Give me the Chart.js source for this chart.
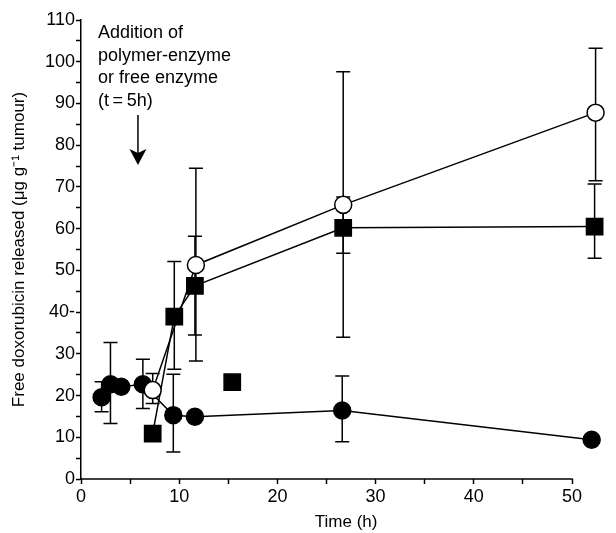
<!DOCTYPE html>
<html>
<head>
<meta charset="utf-8">
<script src="https://cdn.jsdelivr.net/npm/chart.js@4/dist/chart.umd.min.js"></script>
<style>
  body { margin: 0; background: #fff; }
  #wrap { width: 616px; height: 533px; }
</style>
</head>
<body>
<div id="wrap"><canvas id="chart-0"></canvas></div>
<script>
  // open circles (polymer-enzyme)
  var openX = [7.3, 11.7, 26.7, 52.4];
  var openY = [21.3, 51.3, 65.7, 87.8];
  var openLo = [18.1, 28.3, 34.0, 71.5];
  var openHi = [25.3, 74.5, 97.6, 103.2];

  // filled circles
  var filledX = [2.1, 3.0, 4.1, 6.3, 9.4, 11.6, 26.6, 52.0];
  var filledY = [19.6, 22.7, 22.1, 22.7, 15.3, 14.9, 16.4, 9.4];
  var filledLo = [16.1, 13.3, null, 16.9, 6.5, null, 8.9, null];
  var filledHi = [23.3, 32.7, null, 28.7, 25.1, null, 24.7, null];

  // filled squares
  var squareX = [7.3, 9.5, 11.6, 26.7, 52.3];
  var squareY = [10.9, 38.9, 46.3, 60.2, 60.5];
  var squareLo = [null, 26.3, 34.5, 54.1, 52.9];
  var squareHi = [null, 52.1, 58.2, 67.6, 70.7];

  // lone square
  var loneX = [15.4];
  var loneY = [23.2];

  var xTicks = [0, 10, 20, 30, 40, 50];
  var yTicks = [0, 10, 20, 30, 40, 50, 60, 70, 80, 90, 100, 110];
  var xAxisEnd = 50;

  var noteLines = ['Addition of', 'polymer-enzyme', 'or free enzyme', '(t\u2009=\u20095h)'];

  function pts(xs, ys) {
    return xs.map(function(x, i) { return {x: x, y: ys[i]}; });
  }

  var FONT = "'Liberation Sans', Arial, sans-serif";

  var errorBars = {
    id: 'errorBars',
    beforeDatasetsDraw: function(chart) {
      var ctx = chart.ctx;
      var ys = chart.scales.y;
      ctx.save();
      ctx.strokeStyle = '#000';
      ctx.lineWidth = 1.5;
      chart.data.datasets.forEach(function(ds, di) {
        if (!ds.errLo) return;
        var meta = chart.getDatasetMeta(di);
        meta.data.forEach(function(pt, i) {
          var lo = ds.errLo[i], hi = ds.errHi[i];
          if (lo == null) return;
          var x = pt.x;
          var yl = ys.getPixelForValue(lo), yh = ys.getPixelForValue(hi);
          ctx.beginPath();
          ctx.moveTo(x, yl); ctx.lineTo(x, yh);
          ctx.moveTo(x - 7, yl); ctx.lineTo(x + 7, yl);
          ctx.moveTo(x - 7, yh); ctx.lineTo(x + 7, yh);
          ctx.stroke();
        });
      });
      ctx.restore();
    }
  };

  // x axis line stops at 50 although the last points sit past it
  var xAxisLine = {
    id: 'xAxisLine',
    beforeDatasetsDraw: function(chart) {
      var ctx = chart.ctx;
      var xs = chart.scales.x;
      var yb = chart.chartArea.bottom;
      ctx.save();
      ctx.strokeStyle = '#000';
      ctx.lineWidth = 1.5;
      ctx.beginPath();
      ctx.moveTo(xs.getPixelForValue(0) - 0.75, yb);
      ctx.lineTo(xs.getPixelForValue(xAxisEnd) + 0.75, yb);
      ctx.stroke();
      ctx.restore();
    }
  };

  var note = {
    id: 'note',
    afterDraw: function(chart) {
      var ctx = chart.ctx;
      ctx.save();
      ctx.fillStyle = '#000';
      ctx.font = '18px ' + FONT;
      ctx.textBaseline = 'middle';
      noteLines.forEach(function(t, i) {
        ctx.fillText(t, 98, 33 + i * 22.7);
      });
      var ax = chart.scales.x.getPixelForValue(5.8);
      ctx.strokeStyle = '#000';
      ctx.lineWidth = 1.5;
      ctx.beginPath();
      ctx.moveTo(ax, 115); ctx.lineTo(ax, 155);
      ctx.stroke();
      ctx.beginPath();
      ctx.moveTo(ax, 165);
      ctx.lineTo(ax - 8.5, 149);
      ctx.lineTo(ax, 153);
      ctx.lineTo(ax + 8.5, 149);
      ctx.closePath();
      ctx.fill();
      ctx.restore();
    }
  };

  Chart.defaults.font.family = FONT;
  Chart.defaults.font.size = 18;
  Chart.defaults.color = '#000';

  var base = {
    borderColor: '#000',
    borderWidth: 1.5,
    pointBorderColor: '#000',
    pointBorderWidth: 1.5,
    clip: false,
    tension: 0
  };

  var data = {
    datasets: [
      Object.assign({}, base, {
        label: 'open',
        data: pts(openX, openY),
        errLo: openLo, errHi: openHi,
        showLine: true,
        pointStyle: 'circle',
        pointRadius: 8.5,
        pointBackgroundColor: '#fff'
      }),
      Object.assign({}, base, {
        label: 'filled',
        data: pts(filledX, filledY),
        errLo: filledLo, errHi: filledHi,
        showLine: true,
        pointStyle: 'circle',
        pointRadius: 8.5,
        pointBackgroundColor: '#000'
      }),
      Object.assign({}, base, {
        label: 'square',
        data: pts(squareX, squareY),
        errLo: squareLo, errHi: squareHi,
        showLine: true,
        pointStyle: 'rect',
        pointRadius: 11.5,
        pointBackgroundColor: '#000'
      }),
      Object.assign({}, base, {
        label: 'lone',
        data: pts(loneX, loneY),
        showLine: false,
        pointStyle: 'rect',
        pointRadius: 11.5,
        pointBackgroundColor: '#000'
      })
    ]
  };

  var axisGrid = {
    drawOnChartArea: false,
    drawTicks: true,
    tickLength: 5,
    tickWidth: 1.5,
    tickColor: '#000'
  };

  var options = {
    responsive: true,
    maintainAspectRatio: false,
    animation: false,
    layout: { autoPadding: false, padding: { top: 20, right: 4.7, left: 0, bottom: 0 } },
    plugins: { legend: { display: false }, tooltip: { enabled: false } },
    elements: { line: { fill: false } },
    scales: {
      x: {
        type: 'linear',
        min: 0, max: 54,
        grid: axisGrid,
        border: { display: false },
        ticks: {
          stepSize: 5,
          autoSkip: false,
          includeBounds: false,
          maxRotation: 0,
          padding: 2,
          callback: function(v) { return xTicks.indexOf(v) >= 0 ? String(v) : ''; }
        },
        afterBuildTicks: function(s) {
          s.ticks = s.ticks.filter(function(t) { return t.value <= xAxisEnd; });
        },
        title: { display: true, text: 'Time (h)', font: { size: 17 }, padding: { top: 4, bottom: 0 } },
        afterFit: function(s) { s.height = 54; s.paddingLeft = 0; s.paddingRight = 0; }
      },
      y: {
        type: 'linear',
        min: 0, max: 110,
        grid: axisGrid,
        border: { color: '#000', width: 1.5 },
        ticks: {
          stepSize: 5,
          autoSkip: false,
          padding: 1,
          callback: function(v) {
            if (yTicks.indexOf(v) < 0) return '';
            return v === 40 ? '40-' : String(v);
          }
        },
        title: { display: true, text: 'Free doxorubicin released (\u03BCg g\u207B\u00B9 tumour)', font: { size: 17 }, padding: { top: 9, bottom: 0 } },
        afterFit: function(s) { s.width = 81; s.paddingTop = 0; s.paddingBottom = 0; }
      }
    }
  };

  var chart = new Chart('chart-0', {
    type: 'scatter',
    data: data,
    options: options,
    plugins: [xAxisLine, errorBars, note]
  });
</script>
</body>
</html>
